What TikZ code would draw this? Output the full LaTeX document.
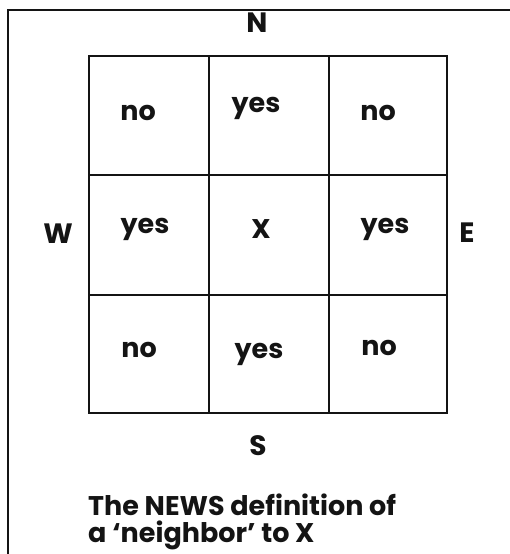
\documentclass[tikz,border=0pt]{standalone}
\usepackage{fontspec}
\setmainfont{Poppins}
\usetikzlibrary{positioning}
\definecolor{ink}{RGB}{20,20,20}
\tikzset{
  frame/.style={draw=ink,line width=1.8pt},
  cellgrid/.style={draw=ink,line width=1.6pt},
  word/.style={font=\fontsize{27}{27}\selectfont\bfseries,text=ink,inner sep=0pt,anchor=base},
  compass/.style={font=\fontsize{28}{28}\selectfont\bfseries,text=ink,inner sep=0pt,anchor=base},
  caption/.style={font=\fontsize{27}{27}\selectfont\bfseries,text=ink,inner sep=0pt,align=left},
}
\begin{document}
\begin{tikzpicture}[x=1pt,y=-1pt]
  \useasboundingbox (0,0) rectangle (510,554);
  % outer frame, runs off the page on the right and bottom
  \draw[frame] (8,560) -- (8,10) -- (516,10);
  % the 3x3 grid
  \draw[cellgrid] (89,56) rectangle (447,413);
  \draw[cellgrid] (209,56) -- (209,413) (329,56) -- (329,413)
                  (89,175) -- (447,175) (89,295) -- (447,295);
  % cell entries (anchored on their baselines)
  \node[word] (nw) at (138,120) {no};
  \node[word] (n)  at (256,112) {yes};
  \node[word] (ne) at (378,120) {no};
  \node[word] (w)  at (145,233) {yes};
  \node[word] (x)  at (261,238) {X};
  \node[word] (e)  at (385,233) {yes};
  \node[word] (sw) at (139,357) {no};
  \node[word] (s)  at (259,358) {yes};
  \node[word] (se) at (379,355) {no};
  % compass points
  \node[compass] (north) at (257,32) {N};
  \node[compass] (west)  at (58,243) {W};
  \node[compass] (east)  at (467,242) {E};
  \node[compass] (south) at (258,455) {S};
  % caption
  \node[caption,anchor=north west] (cap) at (88,494) {The NEWS definition of\\a `neighbor' to X};
\end{tikzpicture}
\end{document}
